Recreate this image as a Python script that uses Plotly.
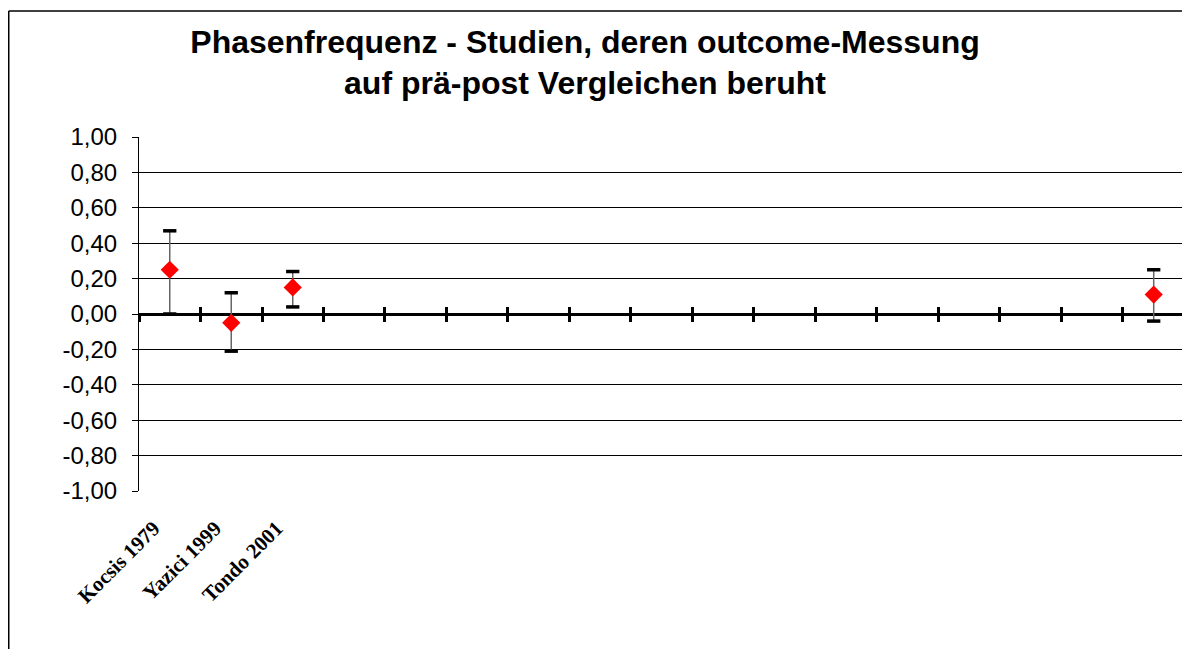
import plotly.graph_objects as go

# ---- data ----
studies = ["Kocsis 1979", "Yazici 1999", "Tondo 2001"] + [""] * 13 + [""]
effect_pos = [0, 1, 2, 16]
effect = [0.25, -0.05, 0.15, 0.11]
ci_upper = [0.47, 0.12, 0.24, 0.25]
ci_lower = [0.00, -0.21, 0.04, -0.04]
y_ticks = [1.0, 0.8, 0.6, 0.4, 0.2, 0.0, -0.2, -0.4, -0.6, -0.8, -1.0]
y_ticklabels = [("%.2f" % v).replace(".", ",") for v in y_ticks]
title_text = "<b>Phasenfrequenz - Studien, deren outcome-Messung<br>auf prä-post Vergleichen beruht</b>"

n_cat = len(studies)
boundaries = [i - 0.5 for i in range(n_cat)]
xrange = [-0.5, n_cat - 0.54]

W, H = 1182, 649
ml, mr, mt, mb = 139, 0, 137, 158
pw, ph = W - ml - mr, H - mt - mb

fig = go.Figure()

# error bar stems
fig.add_trace(go.Scatter(
    x=effect_pos, y=effect, mode="markers",
    marker=dict(size=1, color="rgba(0,0,0,0)"),
    error_y=dict(type="data", symmetric=False,
                 array=[u - v for u, v in zip(ci_upper, effect)],
                 arrayminus=[v - l for v, l in zip(effect, ci_lower)],
                 color="#666666", thickness=1.5, width=0),
    showlegend=False, hoverinfo="skip"))

# caps
fig.add_trace(go.Scatter(
    x=effect_pos + effect_pos, y=ci_upper + ci_lower, mode="markers",
    marker=dict(symbol="line-ew", size=9.5, line=dict(color="black", width=3.5)),
    showlegend=False, hoverinfo="skip"))

# effect markers
fig.add_trace(go.Scatter(
    x=effect_pos, y=effect, mode="markers",
    marker=dict(symbol="diamond", size=14, color="#FF0000", line=dict(width=0)),
    showlegend=False))

# hidden traces for tick axes crossing zero
for xa in ["x2", "x3"]:
    fig.add_trace(go.Scatter(x=[None], y=[None], xaxis=xa, yaxis="y",
                             showlegend=False, hoverinfo="skip"))

bx0 = (8.75 - ml) / pw
by1 = (H - mb - 11) / ph

fig.update_layout(
    width=W, height=H,
    margin=dict(l=ml, r=mr, t=mt, b=mb),
    paper_bgcolor="white", plot_bgcolor="white",
    title=dict(text=title_text, x=585 / W, xref="container", xanchor="center",
               y=1 - 52.5 / H, yref="container", yanchor="middle",
               font=dict(family="Liberation Sans, Arial", size=32, color="black")),
    xaxis=dict(range=xrange, tickmode="array", tickvals=[0, 1, 2],
               ticktext=["<b>%s</b>" % s for s in studies[:3]], tickangle=-45,
               ticks="", showline=False, showgrid=False, zeroline=False,
               ticklabelstandoff=20, ticklabelshift=-16,
               tickfont=dict(family="Liberation Serif, Times New Roman", size=21,
                             color="black")),
    xaxis2=dict(range=xrange, overlaying="x", anchor="free", position=0.5,
                tickmode="array", tickvals=boundaries, showticklabels=False,
                ticks="outside", ticklen=7, tickwidth=2.5, tickcolor="black",
                showline=False, showgrid=False, zeroline=False),
    xaxis3=dict(range=xrange, overlaying="x", anchor="free", position=0.5,
                tickmode="array", tickvals=boundaries, showticklabels=False,
                ticks="inside", ticklen=7, tickwidth=2.5, tickcolor="black",
                showline=False, showgrid=False, zeroline=False),
    yaxis=dict(range=[-1, 1], tickmode="array", tickvals=y_ticks,
               ticktext=y_ticklabels,
               showline=True, linecolor="black", linewidth=1,
               ticks="outside", ticklen=6, tickcolor="black",
               showgrid=True, gridcolor="black", gridwidth=1,
               zeroline=True, zerolinecolor="black", zerolinewidth=3,
               ticklabelstandoff=10,
               tickfont=dict(family="Liberation Sans, Arial", size=24, color="black")),
    shapes=[
        dict(type="line", xref="paper", yref="paper", x0=bx0, x1=1.05, y0=by1, y1=by1,
             line=dict(color="black", width=1.5), layer="below"),
        dict(type="line", xref="paper", yref="paper", x0=bx0, x1=bx0, y0=-0.6, y1=by1,
             line=dict(color="black", width=1.5), layer="below"),
    ],
)

fig.write_html(
    "out.html",
    config={"displayModeBar": False},
    post_script="document.body.style.margin='0';document.body.style.overflow='hidden';",
)
